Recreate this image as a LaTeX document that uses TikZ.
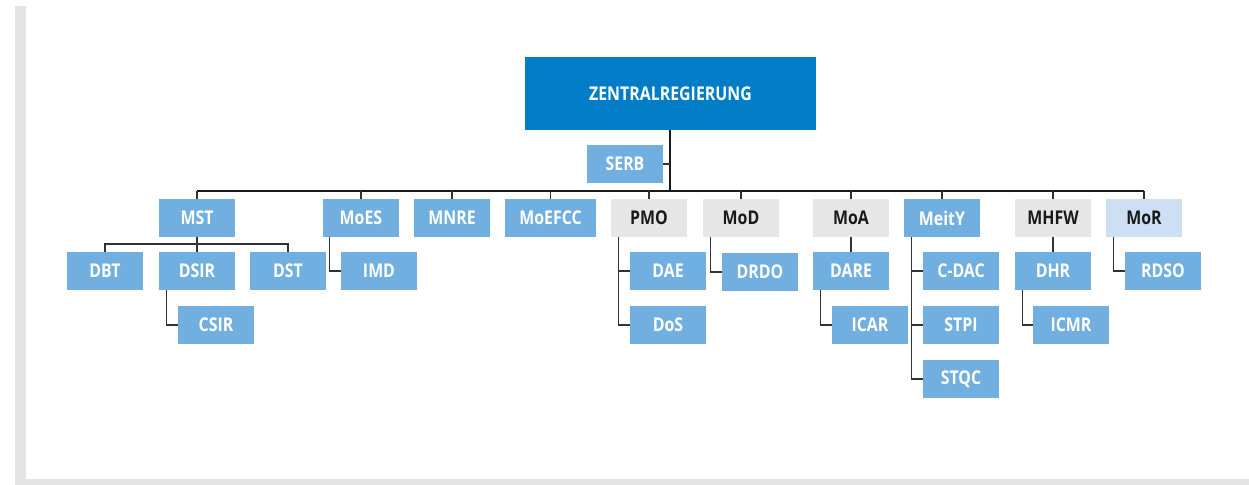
\documentclass[tikz,border=0pt]{standalone}
\usepackage{fontspec}
\setmainfont{Open Sans}[FakeStretch=0.84]
\usetikzlibrary{calc}
\definecolor{boxblue}{HTML}{70AFE0}
\definecolor{topblue}{HTML}{007DC6}
\definecolor{boxgrey}{HTML}{E6E6E6}
\definecolor{paleblue}{HTML}{CDDFF4}
\definecolor{framegrey}{HTML}{E3E3E3}
\definecolor{linecol}{HTML}{333333}
\tikzset{
  bx/.style={rectangle, inner sep=0pt, minimum width=57pt, minimum height=28.5pt,
    font=\bfseries\fontsize{14.2}{16}\selectfont},
  bluebox/.style={bx, fill=boxblue, text=white},
  greybox/.style={bx, fill=boxgrey, text=black!90},
  palebox/.style={bx, fill=paleblue, text=black!90},
  conn/.style={draw=linecol, line width=1.1pt},
  busline/.style={draw=black!90, line width=1.5pt},
}
\begin{document}
\begin{tikzpicture}[x=0.75pt,y=-0.75pt]
\useasboundingbox (0,0) rectangle (1249,485);
\fill[white] (0,0) rectangle (1249,485);
\fill[framegrey] (15,6) rectangle (26,485);
\fill[framegrey] (15,479) rectangle (1249,485);

% top
\node[bx, fill=topblue, text=white, minimum width=218.25pt, minimum height=54.75pt] (zr) at (670.5,93.5) {ZENTRALREGIERUNG};
\node[bluebox] (serb) at (625,164) {SERB};

% level 1
\node[bluebox] (mst) at (197,218) {MST};
\node[bluebox] (moes) at (361,218) {MoES};
\node[bluebox] (mnre) at (452,218) {MNRE};
\node[bluebox, minimum width=68.25pt] (moefcc) at (550.5,218) {MoEFCC};
\node[greybox] (pmo) at (649,218) {PMO};
\node[greybox] (mod) at (741,218) {MoD};
\node[greybox] (moa) at (851,218) {MoA};
\node[bluebox] (meity) at (942,218) {MeitY};
\node[greybox] (mhfw) at (1053,218) {MHFW};
\node[palebox] (mor) at (1144,218) {MoR};

% level 2
\node[bluebox] (dbt) at (105,271) {DBT};
\node[bluebox] (dsir) at (197,271) {DSIR};
\node[bluebox] (dst) at (288,271) {DST};
\node[bluebox] (imd) at (379,271) {IMD};
\node[bluebox] (dae) at (668,271) {DAE};
\node[bluebox] (drdo) at (760,272) {DRDO};
\node[bluebox] (dare) at (851,271) {DARE};
\node[bluebox] (cdac) at (961,271) {C-DAC};
\node[bluebox] (dhr) at (1053,271) {DHR};
\node[bluebox] (rdso) at (1163,271) {RDSO};

% level 3
\node[bluebox] (csir) at (216,325) {CSIR};
\node[bluebox] (dos) at (668,325) {DoS};
\node[bluebox] (icar) at (870,325) {ICAR};
\node[bluebox] (stpi) at (961,325) {STPI};
\node[bluebox] (icmr) at (1071,325) {ICMR};

% level 4
\node[bluebox] (stqc) at (961,379) {STQC};

% bus
\coordinate (busl) at (197,191);
\coordinate (busr) at (1144,191);
\coordinate (zrjoin) at (670,191);
\draw[busline] (zr.south -| zrjoin) -- (zrjoin);
\draw[busline] (busl) -- (busr);
\draw[conn] (serb.east) -- (serb.east -| zrjoin);

% stems
\foreach \n in {mst,moes,mnre,moefcc,pmo,mod,moa,meity,mhfw,mor}{
  \draw[conn] (\n.north) -- (\n.north |- busl);
}

% MST subtree
\coordinate (mstbus) at (197,244);
\draw[conn] (mst.south) -- (dsir.north);
\draw[conn] (dbt.north) |- (mstbus) -| (dst.north);
\draw[conn] ($(dsir.south west)+(7.5,0)$) |- (csir.west);

% MoES
\draw[conn] ($(moes.south west)+(7,0)$) |- (imd.west);

% PMO
\draw[conn] ($(pmo.south west)+(8,0)$) |- (dos.west);
\draw[conn] ($(pmo.south west)+(8,0)$) |- (dae.west);

% MoD
\draw[conn] ($(mod.south west)+(8,0)$) |- (drdo.west);

% MoA
\draw[conn] (moa.south) -- (dare.north);
\draw[conn] ($(dare.south west)+(8,0)$) |- (icar.west);

% MeitY
\draw[conn] ($(meity.south west)+(8,0)$) |- (stqc.west);
\draw[conn] ($(meity.south west)+(8,0)$) |- (stpi.west);
\draw[conn] ($(meity.south west)+(8,0)$) |- (cdac.west);

% MHFW
\draw[conn] (mhfw.south) -- (dhr.north);
\draw[conn] ($(dhr.south west)+(8,0)$) |- (icmr.west);

% MoR
\draw[conn] ($(mor.south west)+(8,0)$) |- (rdso.west);
\end{tikzpicture}
\end{document}
